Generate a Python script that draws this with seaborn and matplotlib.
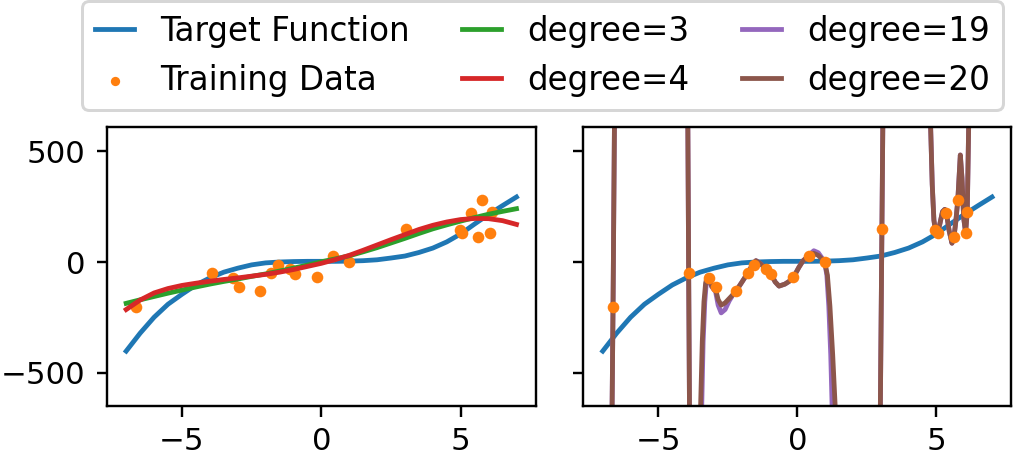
import numpy as np
import matplotlib
matplotlib.use("Agg")
import matplotlib.pyplot as plt
import seaborn as sns

# ---------------- data ----------------
train_x = [-6.63, -3.91, -3.18, -2.94, -2.20, -1.79, -1.57, -1.12, -0.95, -0.14,
           0.41, 0.98, 3.04, 4.96, 5.04, 5.36, 5.63, 5.77, 6.05, 6.11]
train_y = [-202, -51, -74, -115, -130, -51, -14, -32, -54, -69,
           29, 1, 148, 145, 130, 220, 112, 281, 133, 228]

target_x = [-7.0, -6.5, -6.0, -5.5, -5.0, -4.5, -4.0, -3.5, -3.0, -2.5, -2.0, -1.5,
            -1.0, -0.5, 0.0, 0.5, 1.0, 1.5, 2.0, 2.5, 3.0, 3.5, 4.0, 4.5, 5.0,
            5.5, 6.0, 6.5, 7.0]
target_y = [-403, -322, -250, -191, -146, -104, -72, -46, -28, -13, -4, 0,
            2, 3, 3, 3, 4, 6, 10, 18, 27, 43, 63, 91, 127,
            172, 215, 255, 294]

deg3_x = [-7.0, -6.5, -6.0, -5.5, -5.0, -4.5, -4.0, -3.5, -3.0, -2.5, -2.0, -1.5,
          -1.0, -0.5, 0.0, 0.5, 1.0, 1.5, 2.0, 2.5, 3.0, 3.5, 4.0, 4.5, 5.0,
          5.5, 6.0, 6.5, 7.0]
deg3_y = [-187, -171, -156, -141, -127, -113, -100, -88, -77, -65, -54, -41,
          -28, -14, 1, 14, 28, 46, 65, 86, 107, 129, 150, 168, 185,
          201, 216, 229, 241]

deg4_x = [-7.0, -6.5, -6.0, -5.5, -5.0, -4.5, -4.0, -3.5, -3.0, -2.5, -2.0, -1.5,
          -1.0, -0.5, 0.0, 0.5, 1.0, 1.5, 2.0, 2.5, 3.0, 3.5, 4.0, 4.5, 5.0,
          5.5, 6.0, 6.5, 7.0]
deg4_y = [-215, -172, -140, -120, -106, -96, -87, -79, -72, -64, -56, -46,
          -34, -20, -6, 11, 30, 53, 77, 101, 124, 147, 166, 181, 192,
          197, 196, 187, 170]

deg19_x = [-7.0, -6.8, -6.72, -6.63, -6.55, -6.47, -6.3, -4.2, -4.02, -3.97, -3.91,
           -3.85, -3.78, -3.65, -3.56, -3.52, -3.48, -3.44, -3.39, -3.33, -3.28,
           -3.24, -3.18, -3.08, -2.94, -2.85, -2.74, -2.6, -2.45, -2.3, -2.2,
           -2.0, -1.79, -1.62, -1.49, -1.35, -1.12, -0.95, -0.8, -0.66, -0.45,
           -0.3, -0.14, 0.05, 0.2, 0.41, 0.59, 0.75, 0.98, 1.06, 1.13, 1.2,
           1.25, 1.33, 1.5, 1.75, 2.7, 2.85, 2.96, 3.04, 3.12, 3.23, 3.45,
           4.55, 4.7, 4.79, 4.85, 4.91, 4.96, 5.04, 5.12, 5.22, 5.3, 5.36,
           5.46, 5.56, 5.63, 5.7, 5.77, 5.86, 5.92, 5.98, 6.05, 6.11, 6.16,
           6.22, 6.4, 7.0]
deg19_y = [-5000, -3000, -1400, -202, 1100, 3000, 5000, 5000, 3000, 1300, -51,
           -1300, -3000, -5000, -2500, -1500, -1000, -650, -360, -180, -100,
           -70, -74, -112, -135, -195, -230, -215, -175, -145, -130,
           -92, -51, -14, 6, -5, -32, -54, -90, -109, -100,
           -88, -69, -25, 5, 29, 51, 42, 1, -60, -200, -420,
           -655, -1000, -2000, -5000, -5000, -2500, -1000, 148, 1300, 3000, 5000,
           5000, 1800, 620, 350, 190, 145, 130, 170, 228, 238, 220,
           140, 85, 112, 185, 281, 484, 380, 200, 133, 228, 612,
           1500, 5000, 5000]

deg20_x = [-7.0, -6.8, -6.72, -6.63, -6.55, -6.47, -6.3, -4.2, -4.02, -3.97, -3.91,
           -3.85, -3.78, -3.65, -3.55, -3.52, -3.48, -3.42, -3.36, -3.3,
           -3.24, -3.18, -3.08, -2.94, -2.85, -2.74, -2.6, -2.45, -2.3, -2.2,
           -2.0, -1.79, -1.62, -1.49, -1.35, -1.12, -0.95, -0.8, -0.66, -0.45,
           -0.3, -0.14, 0.05, 0.2, 0.41, 0.59, 0.75, 0.98, 1.08, 1.17, 1.27,
           1.36, 1.45, 1.6, 1.85, 2.7, 2.85, 2.96, 3.04, 3.12, 3.23, 3.45,
           4.55, 4.7, 4.79, 4.85, 4.91, 4.96, 5.04, 5.12, 5.22, 5.3, 5.36,
           5.46, 5.56, 5.63, 5.7, 5.77, 5.86, 5.92, 5.98, 6.05, 6.11, 6.16,
           6.22, 6.4, 7.0]
deg20_y = [-5000, -3000, -1400, -202, 1100, 3000, 5000, 5000, 3000, 1300, -51,
           -1300, -3000, -5000, -2500, -1300, -650, -360, -180, -95,
           -63, -74, -110, -125, -170, -195, -185, -165, -145, -130,
           -92, -51, -14, 6, -5, -32, -54, -90, -109, -100,
           -88, -69, -25, 5, 29, 39, 30, 1, -60, -200, -420,
           -655, -1000, -2000, -5000, -5000, -2500, -1000, 148, 1300, 3000, 5000,
           5000, 1800, 620, 350, 190, 145, 130, 170, 228, 238, 220,
           140, 85, 112, 185, 281, 484, 380, 200, 133, 228, 612,
           1500, 5000, 5000]

labels = ["Target Function", "Training Data", "degree=3", "degree=4",
          "degree=19", "degree=20"]
colors = ["#1f77b4", "#ff7f0e", "#2ca02c", "#d62728", "#9467bd", "#8c564b"]

# ---------------- figure ----------------
plt.rcParams["font.family"] = ["DejaVu Sans"]
plt.rcParams["font.size"] = 10.3
DPI = 216
fig = plt.figure(figsize=(1013 / DPI, 460 / DPI), dpi=DPI)
ax1 = fig.add_axes([0.1053, 0.118, 0.4238, 0.6066])
ax2 = fig.add_axes([0.5758, 0.118, 0.4227, 0.6066])
ax2.sharey(ax1)


def line(ax, x, y, color, label, z=2):
    sns.lineplot(x=x, y=y, ax=ax, color=color, label=label, sort=False,
                 estimator=None, linewidth=1.6, zorder=z)


def dots(ax, z):
    sns.scatterplot(x=train_x, y=train_y, ax=ax, color=colors[1], s=15,
                    linewidth=0, marker="o", label=labels[1], zorder=z)


# left panel
line(ax1, target_x, target_y, colors[0], labels[0], z=2)
dots(ax1, z=2.05)
line(ax1, deg3_x, deg3_y, colors[2], labels[2], z=2.1)
line(ax1, deg4_x, deg4_y, colors[3], labels[3], z=2.2)

# right panel
line(ax2, target_x, target_y, colors[0], labels[0], z=2)
line(ax2, deg19_x, deg19_y, colors[4], labels[4], z=2.1)
line(ax2, deg20_x, deg20_y, colors[5], labels[5], z=2.2)
dots(ax2, z=2.5)

for ax in (ax1, ax2):
    leg = ax.get_legend()
    if leg is not None:
        leg.remove()
    ax.set_xlim(-7.7, 7.7)
    ax.set_xticks([-5, 0, 5])
    ax.set_xlabel("")
    ax.set_ylabel("")
ax1.set_ylim(-650, 612)
ax1.set_yticks([-500, 0, 500])
ax2.tick_params(labelleft=False)

# figure legend from both panels
h1, l1 = ax1.get_legend_handles_labels()
h2, l2 = ax2.get_legend_handles_labels()
hmap = dict(zip(l1, h1))
hmap.update({k: v for k, v in zip(l2, h2) if k not in hmap})
handles = [hmap[k] for k in labels]
fig.legend(handles, labels, ncol=3, loc="lower left", mode="expand",
           bbox_to_anchor=(0.081, 0.761, 0.909, 0.235), borderaxespad=0,
           fontsize=10.9, handlelength=1.2, markerscale=0.8)

fig.savefig("out.png", dpi=DPI)
